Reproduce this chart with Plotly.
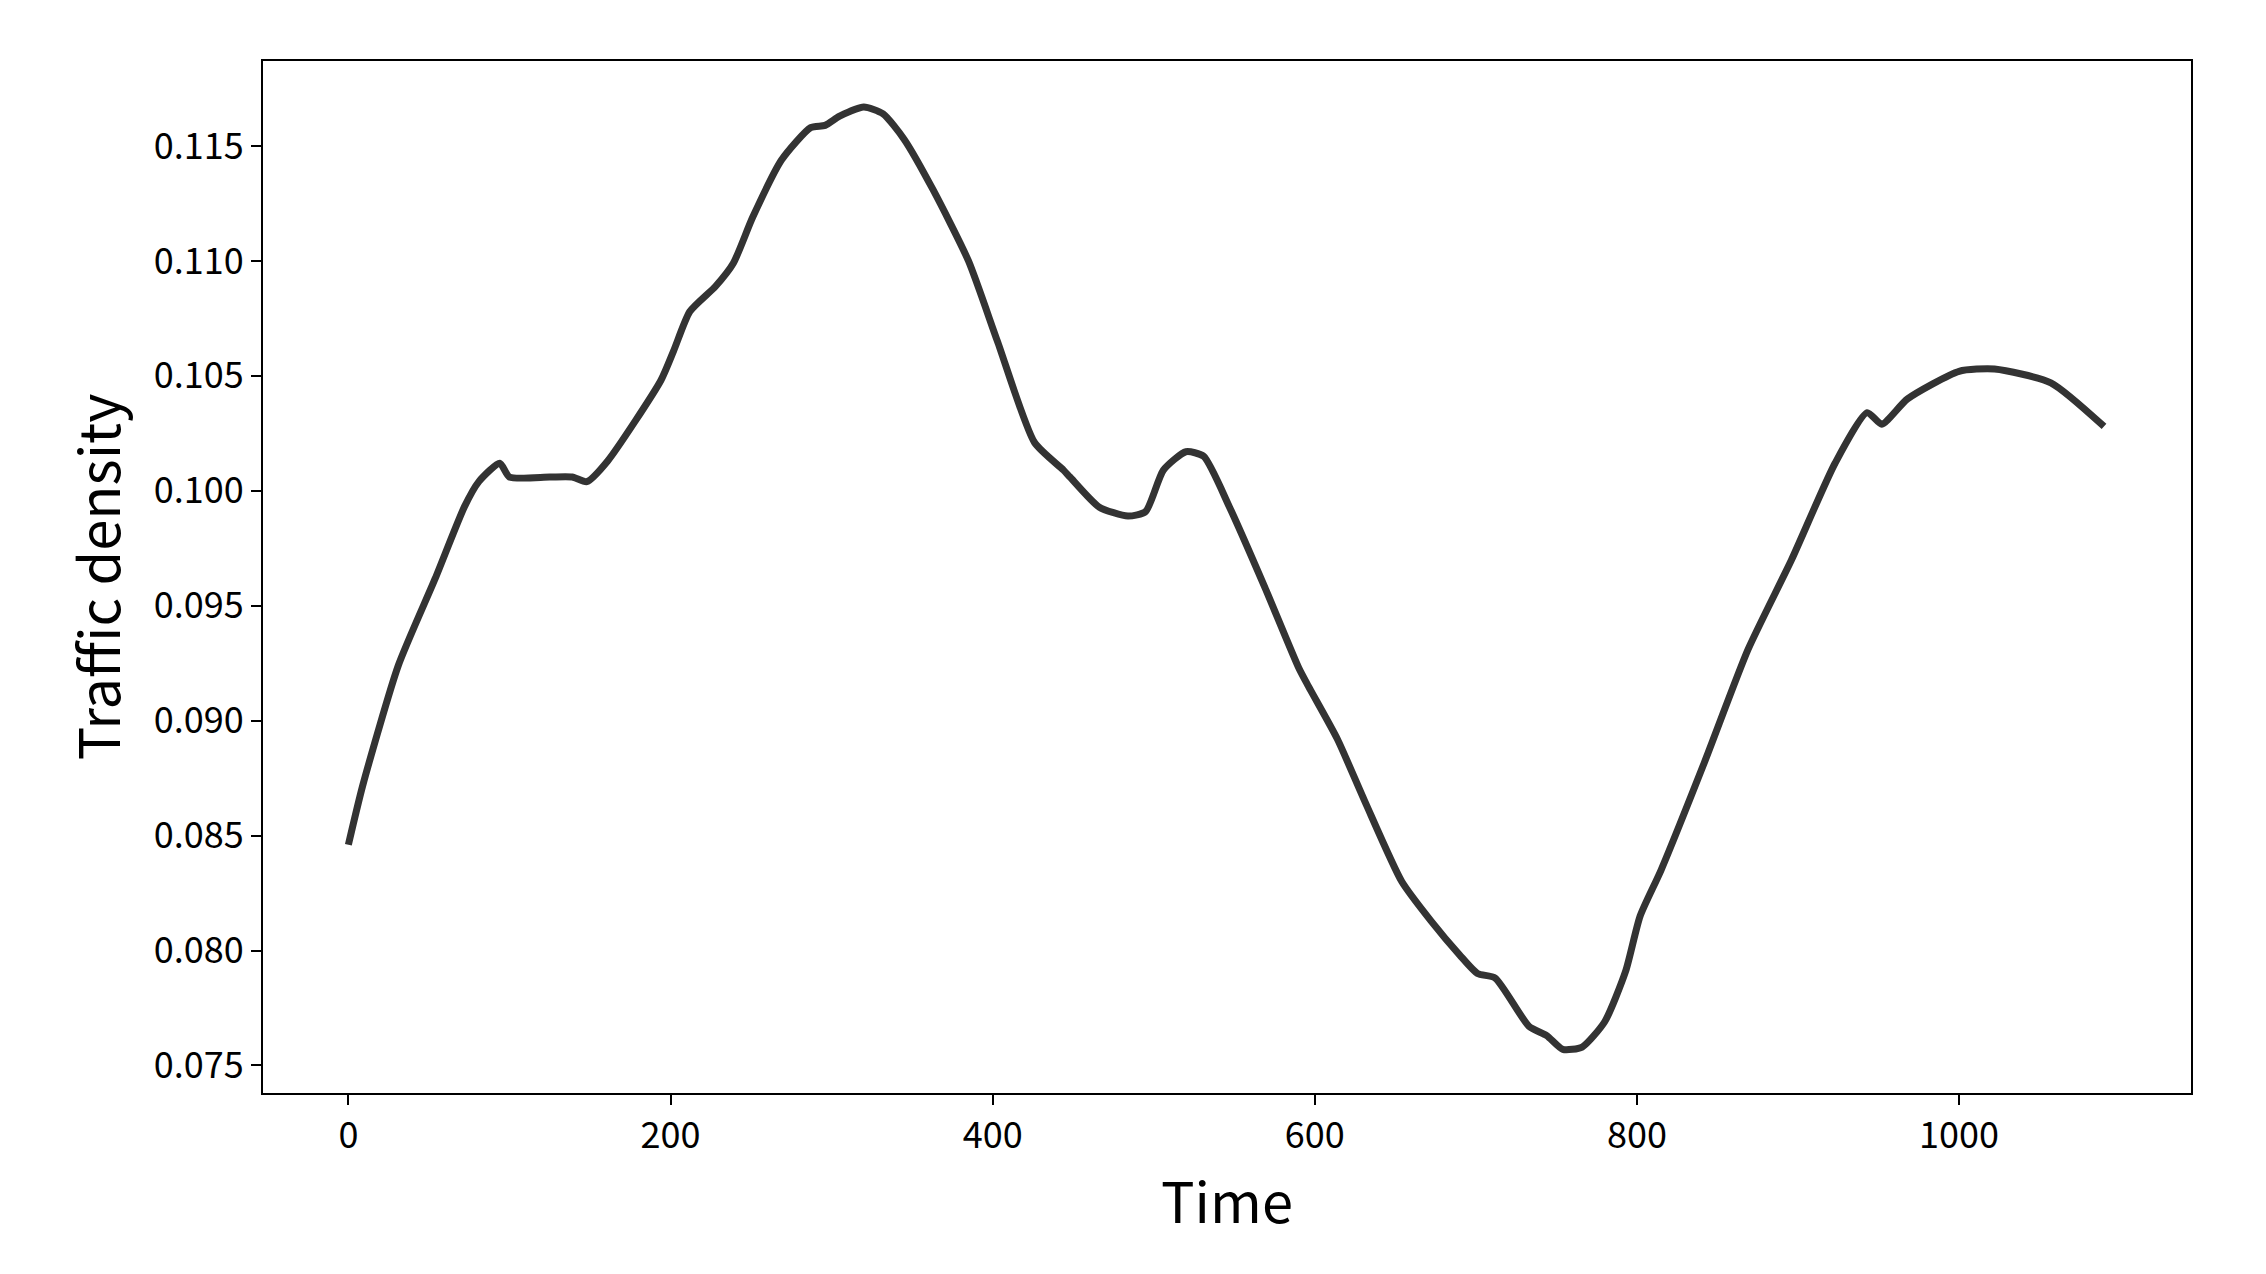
import plotly.graph_objects as go

# Values
time = [0, 9, 31, 54, 72, 81, 94, 100, 125, 139, 148, 161, 194, 202, 212, 228, 239,
        251, 269, 287, 296, 305, 320, 332, 345, 363, 385, 403, 426, 444, 448, 466,
        484, 495, 506, 520, 531, 547, 569, 590, 596, 614, 631, 654, 672, 690, 701,
        712, 733, 744, 754, 766, 780, 793, 802, 815, 842, 869, 896, 923, 943, 952,
        968, 1000, 1022, 1057, 1090]
density = [0.0846, 0.0872, 0.0924, 0.0962, 0.0993, 0.1004, 0.1012, 0.1006, 0.1006,
           0.1006, 0.1004, 0.1013, 0.1048, 0.1061, 0.1078, 0.1089, 0.1099, 0.1119,
           0.1144, 0.1158, 0.1159, 0.1163, 0.1167, 0.1164, 0.1153, 0.1131, 0.1100,
           0.1065, 0.1021, 0.1009, 0.1006, 0.0993, 0.0989, 0.0991, 0.1009, 0.1017,
           0.1015, 0.0993, 0.0958, 0.0923, 0.0915, 0.0892, 0.0865, 0.0830, 0.0813,
           0.0798, 0.0790, 0.0788, 0.0767, 0.0763, 0.0757, 0.0758, 0.0769, 0.0791,
           0.0815, 0.0835, 0.0882, 0.0931, 0.0970, 0.1012, 0.1034, 0.1029, 0.1040,
           0.1052, 0.1053, 0.1047, 0.1028]

font = "Noto Sans CJK SC, DejaVu Sans"

fig = go.Figure(go.Scatter(
    x=time, y=density, mode='lines',
    line=dict(color='#333333', width=7, shape='spline', smoothing=0.6),
))

axis_common = dict(showgrid=False, zeroline=False, showline=True, linecolor='black',
                   linewidth=2, mirror=True, ticks='outside', ticklen=10,
                   tickwidth=2, tickcolor='black',
                   tickfont=dict(size=36, family=font, color='black'))

fig.update_layout(
    width=2266, height=1274,
    plot_bgcolor='white', paper_bgcolor='white',
    showlegend=False,
    margin=dict(l=255, r=83, t=53, b=189),
    xaxis=dict(range=[-53, 1144], tickvals=[0, 200, 400, 600, 800, 1000],
               title=dict(text='Time', font=dict(size=56, family=font, color='black'), standoff=15),
               **axis_common),
    yaxis=dict(range=[0.0738, 0.1187],
               tickvals=[0.075, 0.080, 0.085, 0.090, 0.095, 0.100, 0.105, 0.110, 0.115],
               tickformat='.3f',
               title=dict(text='Traffic density', font=dict(size=56, family=font, color='black'), standoff=15),
               **axis_common),
)

fig.write_html("out.html")
